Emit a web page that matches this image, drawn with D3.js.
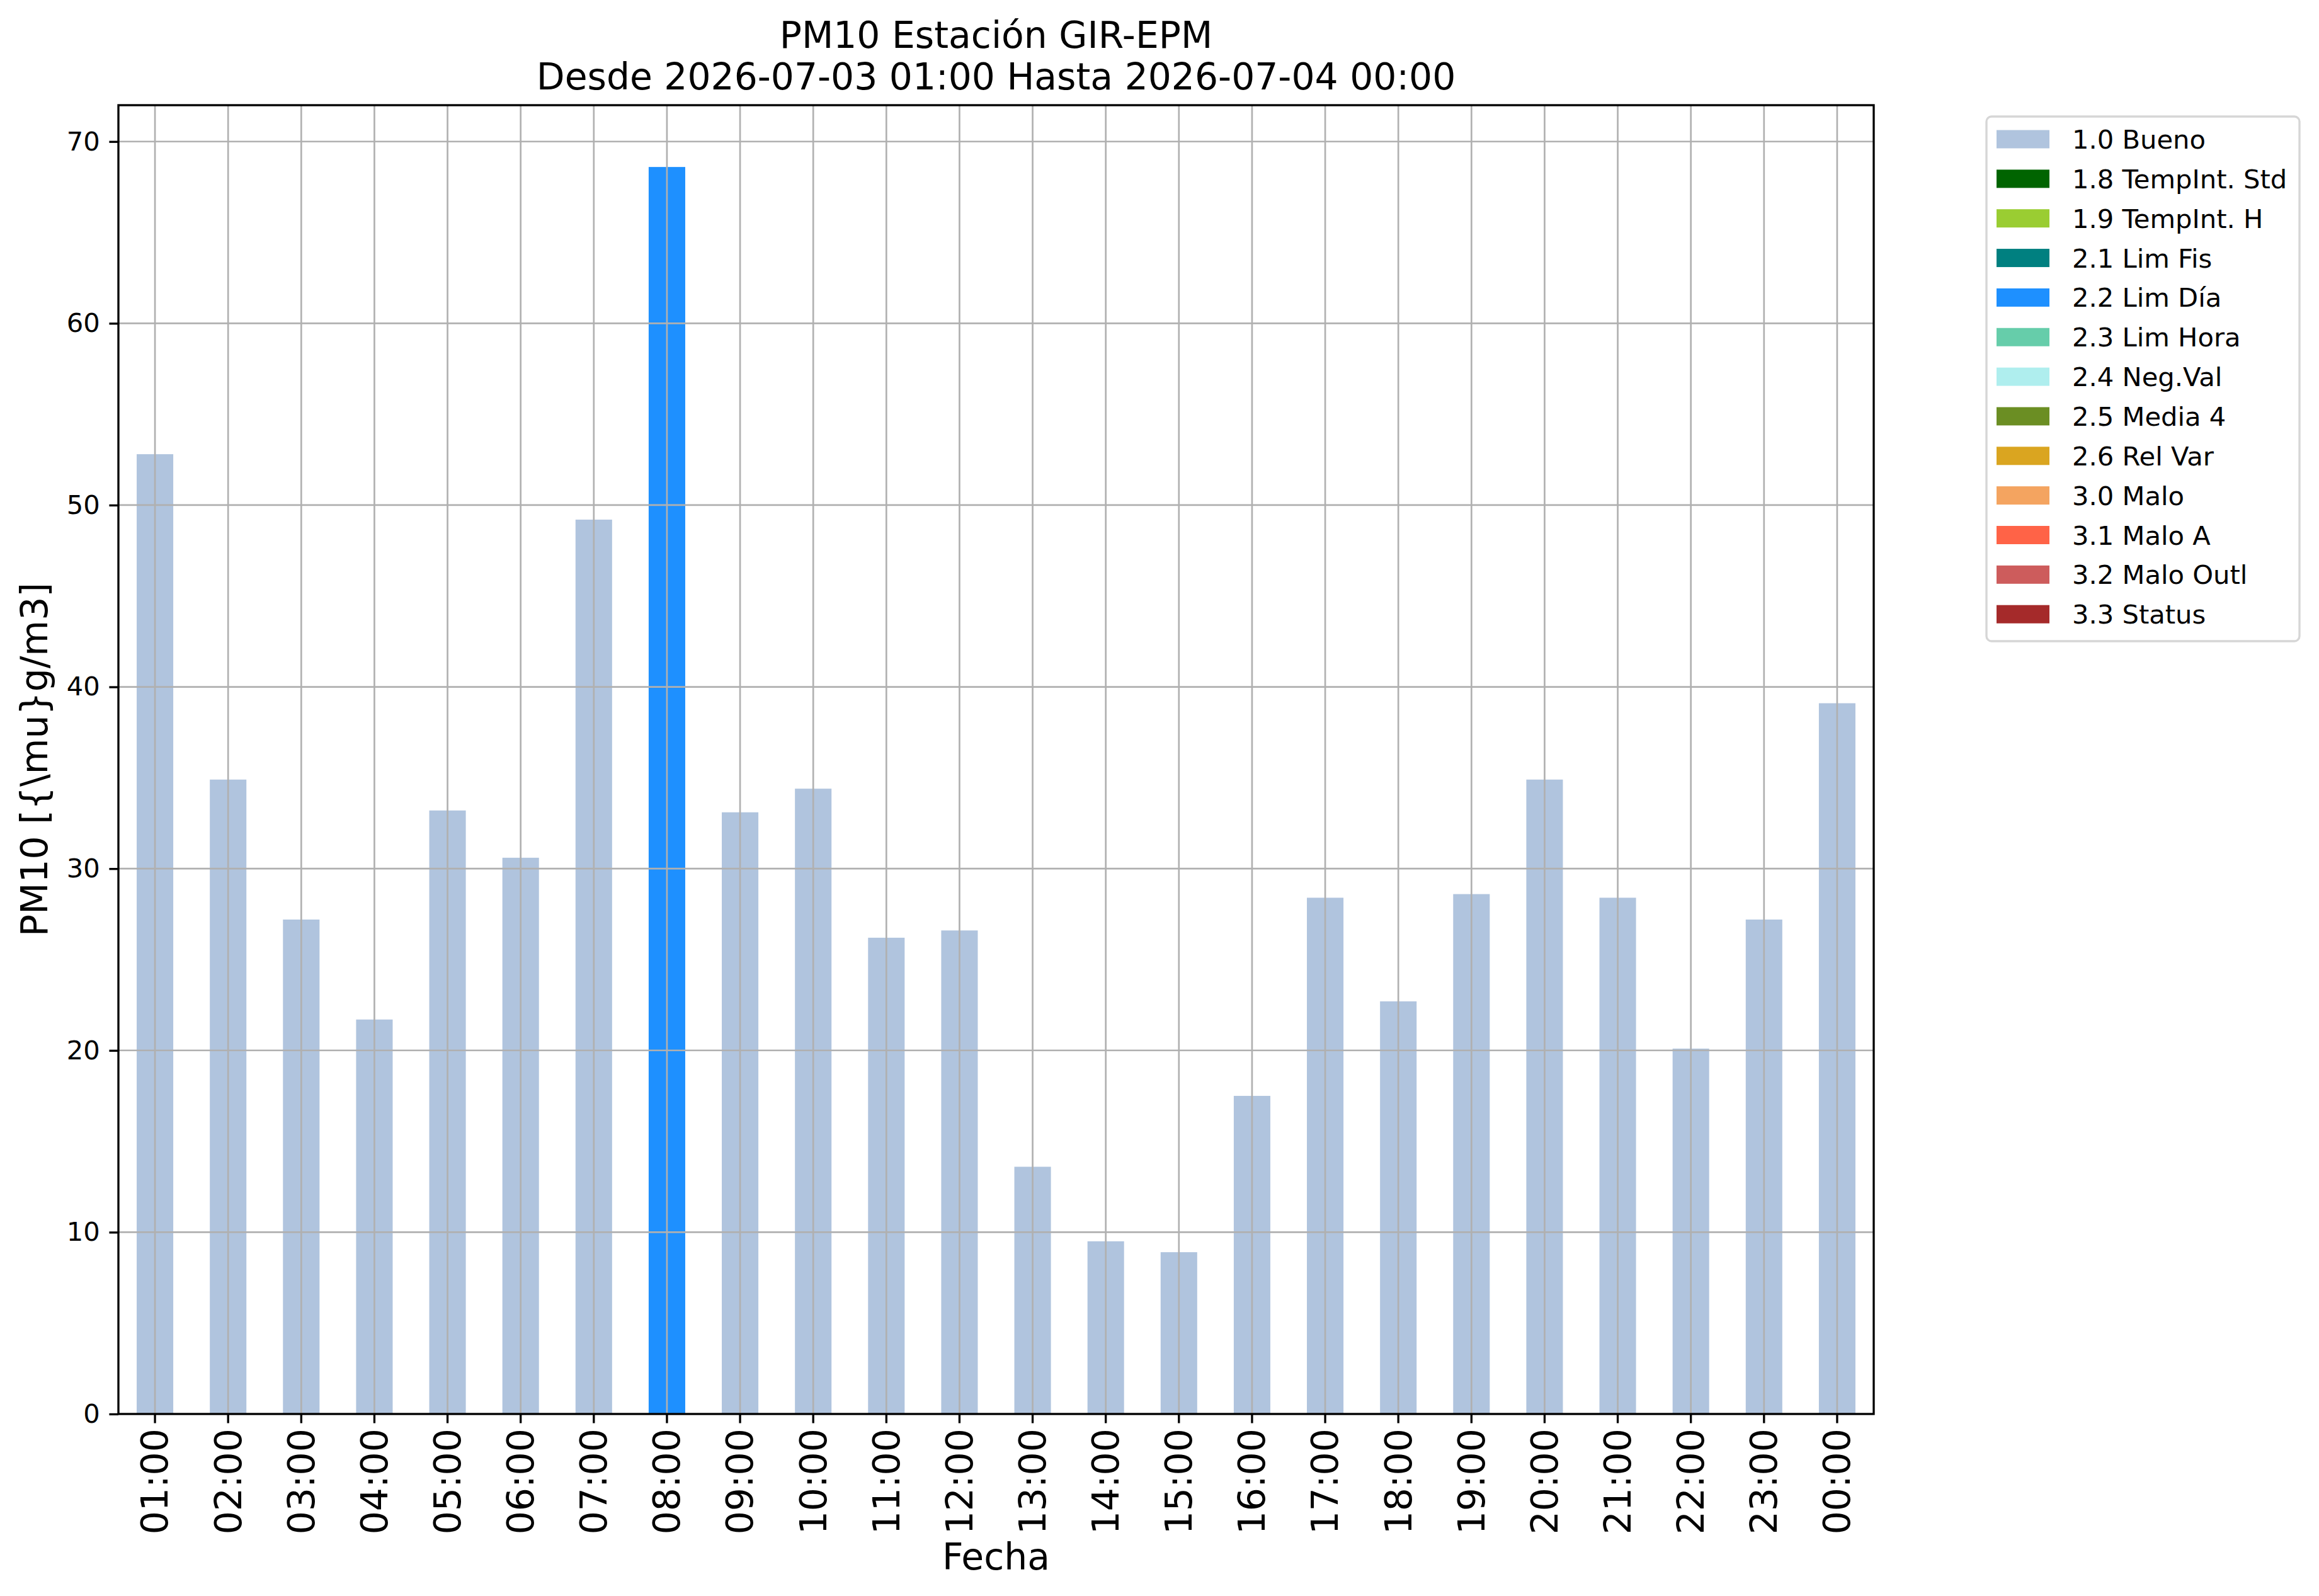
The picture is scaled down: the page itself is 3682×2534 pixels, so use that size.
<!DOCTYPE html>
<html>
<head>
<meta charset="utf-8">
<script src="https://cdn.jsdelivr.net/npm/d3@7"></script>
<style>
  body { margin: 0; background: #fff; }
  svg { display: block; font-family: "DejaVu Sans", sans-serif; }
</style>
</head>
<body>
<div id="chart"></div>
<script>
// horas del periodo
const hours = ['01:00','02:00','03:00','04:00','05:00','06:00','07:00','08:00','09:00','10:00','11:00','12:00',
               '13:00','14:00','15:00','16:00','17:00','18:00','19:00','20:00','21:00','22:00','23:00','00:00'];
// PM10 por hora
const pm10 = [52.8, 34.9, 27.2, 21.7, 33.2, 30.6, 49.2, 68.6, 33.1, 34.4, 26.2, 26.6,
              13.6, 9.5, 8.9, 17.5, 28.4, 22.7, 28.6, 34.9, 28.4, 20.1, 27.2, 39.1];
// bandera de calidad de cada dato
const flags = ['1.0','1.0','1.0','1.0','1.0','1.0','1.0','2.2','1.0','1.0','1.0','1.0',
               '1.0','1.0','1.0','1.0','1.0','1.0','1.0','1.0','1.0','1.0','1.0','1.0'];
const flagCodes = ['1.0','1.8','1.9','2.1','2.2','2.3','2.4','2.5','2.6','3.0','3.1','3.2','3.3'];
const flagNames = ['1.0 Bueno','1.8 TempInt. Std','1.9 TempInt. H','2.1 Lim Fis','2.2 Lim Día','2.3 Lim Hora',
                   '2.4 Neg.Val','2.5 Media 4','2.6 Rel Var','3.0 Malo','3.1 Malo A','3.2 Malo Outl','3.3 Status'];
const flagColors = ['#b0c4de','#006400','#9acd32','#008080','#1e90ff','#66cdaa',
                    '#afeeee','#6b8e23','#daa520','#f4a460','#ff6347','#cd5c5c','#a52a2a'];
const yTicks = [0, 10, 20, 30, 40, 50, 60, 70];

const width = 3682, height = 2534;
const margin = {left: 188, right: 2975, top: 167, bottom: 2245};
const pt = 300 / 72; // px por punto

const svg = d3.select('#chart').append('svg')
    .attr('width', width)
    .attr('height', height);

const x = d3.scaleBand()
    .domain(hours)
    .range([margin.left, margin.right])
    .paddingInner(0.5)
    .paddingOuter(0.25);

const y = d3.scaleLinear()
    .domain([0, 72])
    .range([margin.bottom, margin.top]);

const color = d3.scaleOrdinal().domain(flagCodes).range(flagColors);

// barras
svg.append('g')
    .selectAll('rect')
    .data(hours)
    .join('rect')
    .attr('x', (d) => x(d))
    .attr('width', x.bandwidth())
    .attr('y', (d, i) => y(pm10[i]))
    .attr('height', (d, i) => y(0) - y(pm10[i]))
    .attr('fill', (d, i) => color(flags[i]));

// grilla (encima de las barras, como matplotlib)
const grid = svg.append('g')
    .attr('stroke', '#b0b0b0')
    .attr('stroke-width', 0.8 * pt * 0.8);
grid.selectAll('line.gx')
    .data(hours)
    .join('line')
    .attr('x1', (d) => x(d) + x.bandwidth() / 2)
    .attr('x2', (d) => x(d) + x.bandwidth() / 2)
    .attr('y1', margin.top)
    .attr('y2', margin.bottom);
grid.selectAll('line.gy')
    .data(yTicks)
    .join('line')
    .attr('x1', margin.left)
    .attr('x2', margin.right)
    .attr('y1', (d) => y(d))
    .attr('y2', (d) => y(d));

// eje y
const yAxis = svg.append('g')
    .attr('transform', `translate(${margin.left},0)`)
    .call(d3.axisLeft(y).tickValues(yTicks).tickSize(3.5 * pt).tickPadding(3.5 * pt));
yAxis.select('.domain').remove();
yAxis.selectAll('.tick line').attr('stroke', '#000').attr('stroke-width', 0.8 * pt);
yAxis.selectAll('.tick text')
    .attr('font-size', 10 * pt)
    .attr('font-family', 'DejaVu Sans')
    .attr('fill', '#000');

// eje x
const xAxis = svg.append('g')
    .attr('transform', `translate(0,${margin.bottom})`)
    .call(d3.axisBottom(x).tickSize(3.5 * pt).tickPadding(0));
xAxis.select('.domain').remove();
xAxis.selectAll('.tick line').attr('stroke', '#000').attr('stroke-width', 0.8 * pt);
xAxis.selectAll('.tick text')
    .attr('font-size', 14 * pt)
    .attr('font-family', 'DejaVu Sans')
    .attr('fill', '#000')
    .attr('text-anchor', 'end')
    .attr('transform', `translate(0,${3.5 * pt + 3.5 * pt - 6}) rotate(-90)`)
    .attr('x', 0)
    .attr('y', 0)
    .attr('dy', '0.35em');

// marco del area
svg.append('rect')
    .attr('x', margin.left)
    .attr('y', margin.top)
    .attr('width', margin.right - margin.left)
    .attr('height', margin.bottom - margin.top)
    .attr('fill', 'none')
    .attr('stroke', '#000')
    .attr('stroke-width', 0.8 * pt);

// titulo
const cx = (margin.left + margin.right) / 2;
svg.append('text')
    .attr('x', cx).attr('y', 76)
    .attr('text-anchor', 'middle')
    .attr('font-size', 14 * pt)
    .text('PM10 Estación GIR-EPM');
svg.append('text')
    .attr('x', cx).attr('y', 142)
    .attr('text-anchor', 'middle')
    .attr('font-size', 14 * pt)
    .text('Desde 2026-07-03 01:00 Hasta 2026-07-04 00:00');

// etiquetas de ejes
svg.append('text')
    .attr('x', cx).attr('y', 2492)
    .attr('text-anchor', 'middle')
    .attr('font-size', 14 * pt)
    .text('Fecha');
svg.append('text')
    .attr('transform', `translate(75,${(margin.top + margin.bottom) / 2}) rotate(-90)`)
    .attr('text-anchor', 'middle')
    .attr('font-size', 14 * pt)
    .text('PM10 [{\\mu}g/m3]');

// leyenda
const legend = svg.append('g').attr('transform', 'translate(3154,185)');
legend.append('rect')
    .attr('width', 497)
    .attr('height', 833)
    .attr('rx', 8)
    .attr('fill', '#fff')
    .attr('fill-opacity', 0.8)
    .attr('stroke', '#cccccc')
    .attr('stroke-opacity', 0.8)
    .attr('stroke-width', 0.8 * pt);
const items = legend.selectAll('g.item')
    .data(flagNames)
    .join('g')
    .attr('transform', (d, i) => `translate(0,${36 + i * 62.85})`);
items.append('rect')
    .attr('x', 16)
    .attr('y', -14.5)
    .attr('width', 84)
    .attr('height', 29)
    .attr('fill', (d, i) => flagColors[i]);
items.append('text')
    .attr('x', 136)
    .attr('dy', '0.36em')
    .attr('font-size', 10 * pt)
    .text((d) => d);
</script>
</body>
</html>
